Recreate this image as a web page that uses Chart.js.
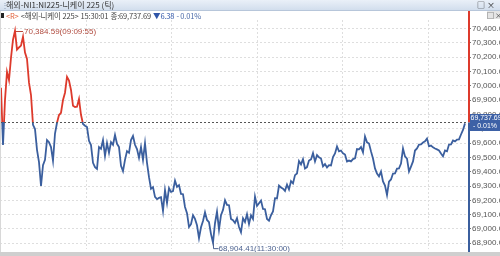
<!DOCTYPE html>
<html>
<head>
<meta charset="utf-8">
<script src="https://cdn.jsdelivr.net/npm/chart.js@4.4.0/dist/chart.umd.min.js"></script>
<style>
  html, body { margin: 0; padding: 0; background: #fff; }
  #wrap { position: relative; width: 500px; height: 256px; overflow: hidden; font-family: "Noto Sans CJK KR", "Noto Sans", sans-serif; }
  #myChart { position: absolute; left: 0; top: 0; }
  #titleBar { position: absolute; left: 0; top: 0; width: 500px; height: 10px; background: linear-gradient(#eaf0f8, #d2deed); border-bottom: 1px solid #b7c6da; font-size: 8px; line-height: 10px; color: #333; white-space: nowrap; }
  #titleBar .grip { position: absolute; left: 1px; top: 0; color: #8a9ab0; }
  #titleBar .txt { position: absolute; left: 6px; top: 0; }
  #titleBar .btns { position: absolute; right: 3px; top: 0; font-size: 8px; color: #222; letter-spacing: 2px; }
  #legend { position: absolute; left: 6px; top: 11px; height: 9px; font-size: 7.5px; line-height: 9px; white-space: nowrap; color: #444; letter-spacing: -0.15px; }
  #legend span { margin-right: 2px; }
  #sq { position: absolute; left: 1px; top: 13px; width: 3px; height: 5px; background: #222; }
  #subBtns { position: absolute; right: 0; top: 11px; width: 13px; height: 8px; background: #e4e4e4; font-size: 7px; line-height: 8px; color: #333; text-align: center; letter-spacing: 1px; }
  #bottomBar { position: absolute; left: 0; top: 252px; width: 500px; height: 4px; background: #cfcfcf; }
  #leftEdge { position: absolute; left: 0; top: 11px; width: 1px; height: 241px; background: #d8d8d8; }
</style>
</head>
<body>
<div id="wrap">
  <canvas id="myChart" width="500" height="256"></canvas>
  <div id="titleBar"><span class="grip">⋮</span><span class="txt">해외-NI1:NI225-니케이 225 (틱)</span><span class="btns">□×</span></div>
  <div id="sq"></div>
  <div id="legend"><span style="color:#e0603a">&lt;R&gt;</span><span>&lt;해외-니케이 225&gt;</span><span>15:30:01</span><span>종:69,737.69</span><span style="color:#2f55a8">▼6.38</span><span style="color:#4a6aa8">- 0.01%</span></div>
  <div id="subBtns">□×</div>
  <div id="leftEdge"></div>
  <div id="bottomBar"></div>
</div>
<script>
// previous close (the dotted reference line) and last trade
const prevClose = 69744.07;
const lastPrice = 69737.69;
const lastChange = "- 0.01%";

// right axis tick values
const yTicks = [68900, 69000, 69100, 69200, 69300, 69400, 69500, 69600, 69700, 69800, 69900, 70000, 70100, 70200, 70300, 70400];

// tick index where the vertical time grid lines fall
const timeGrid = [42.5, 85, 128, 170.5, 213.5];

// high / low labels
const highLabel = "70,384.59(09:09:55)";
const lowLabel = "68,904.41(11:30:00)";

// tick prices
const prices = [
  69986, 69587, 69902, 70098, 70040, 70196, 70322, 70384.59, 70253, 70268,
  70281, 70343, 70232, 70188, 70022, 69936, 69728, 69698, 69553, 69467,
  69300, 69446, 69483, 69621, 69606, 69572, 69476, 69667, 69742, 69796,
  69812, 69901, 69952, 70062, 70036, 69971, 69861, 69852, 69854, 69908,
  69798, 69733, 69721, 69712, 69616, 69586, 69462, 69432, 69420, 69572,
  69560, 69621, 69511, 69600, 69532, 69607, 69588, 69656, 69595, 69572,
  69441, 69404, 69483, 69544, 69532, 69621, 69650, 69588, 69558, 69497,
  69572, 69483, 69600, 69462, 69362, 69280, 69292, 69224, 69208, 69217,
  69222, 69126, 69271, 69182, 69285, 69259, 69264, 69338, 69294, 69306,
  69245, 69243, 69154, 69110, 69014, 69033, 69096, 69070, 69026, 68936,
  69012, 69056, 69117, 69063, 69047, 68964, 68904.41, 69040, 69121, 68996,
  69096, 69133, 69201, 69168, 69166, 69070, 69061, 69042, 69075, 69014,
  68978, 69075, 69049, 69103, 69035, 69096, 69070, 69226, 69161, 69180,
  69198, 69140, 69138, 69070, 69058, 69096, 69122, 69215, 69213, 69303,
  69290, 69282, 69266, 69310, 69276, 69334, 69318, 69376, 69388, 69474,
  69451, 69488, 69423, 69432, 69478, 69486, 69530, 69472, 69516, 69500,
  69492, 69437, 69453, 69430, 69446, 69444, 69502, 69528, 69576, 69542,
  69548, 69528, 69520, 69472, 69478, 69472, 69488, 69493, 69558, 69556,
  69572, 69535, 69646, 69605, 69597, 69542, 69492, 69423, 69387, 69367,
  69401, 69332, 69303, 69237, 69331, 69346, 69387, 69388, 69422, 69423,
  69457, 69562, 69507, 69492, 69402, 69436, 69472, 69548, 69563, 69590,
  69591, 69604, 69612, 69632, 69577, 69583, 69570, 69562, 69556, 69548,
  69527, 69507, 69548, 69542, 69590, 69591, 69618, 69612, 69625, 69626,
  69660, 69692, 69737.69
];

const upColor = "#dd3a2c";
const downColor = "#3b5f9e";

function fmt(v) {
  return v.toLocaleString("en-US", { minimumFractionDigits: 2, maximumFractionDigits: 2 });
}

// line color splits at the previous close
function splitColor(ctx) {
  const c = ctx.chart;
  const a = c.chartArea;
  if (!a) return downColor;
  const yPix = c.scales.y.getPixelForValue(prevClose);
  const s = Math.min(1, Math.max(0, (yPix - a.top) / (a.bottom - a.top)));
  const g = c.ctx.createLinearGradient(0, a.top, 0, a.bottom);
  g.addColorStop(0, upColor);
  g.addColorStop(s, upColor);
  g.addColorStop(s, downColor);
  g.addColorStop(1, downColor);
  return g;
}

const overlay = {
  id: "overlay",
  afterDraw(chart) {
    const ctx = chart.ctx;
    const a = chart.chartArea;
    const xs = chart.scales.x, ys = chart.scales.y;
    const refY = Math.round(ys.getPixelForValue(prevClose)) + 0.5;

    ctx.save();
    // previous close dotted line
    ctx.strokeStyle = "#555";
    ctx.lineWidth = 1;
    ctx.setLineDash([2, 2]);
    ctx.beginPath();
    ctx.moveTo(a.left, refY);
    ctx.lineTo(a.right, refY);
    ctx.stroke();
    ctx.setLineDash([]);

    // right axis line, red above / blue below
    const ax = a.right + 1;
    ctx.lineWidth = 2;
    ctx.strokeStyle = upColor;
    ctx.beginPath();
    ctx.moveTo(ax, 11);
    ctx.lineTo(ax, refY);
    ctx.stroke();
    ctx.strokeStyle = downColor;
    ctx.beginPath();
    ctx.moveTo(ax, refY);
    ctx.lineTo(ax, 252);
    ctx.stroke();

    // high / low
    let hi = 0, lo = 0;
    prices.forEach((p, i) => {
      if (p > prices[hi]) hi = i;
      if (p < prices[lo]) lo = i;
    });
    ctx.textBaseline = "middle";
    ctx.font = '8px "Liberation Sans", sans-serif';
    let px = xs.getPixelForValue(hi), py = Math.round(ys.getPixelForValue(prices[hi])) + 0.5;
    ctx.strokeStyle = "#b84a3c";
    ctx.lineWidth = 1;
    ctx.beginPath();
    ctx.moveTo(px + 1, py);
    ctx.lineTo(px + 8, py);
    ctx.stroke();
    ctx.fillStyle = "#b04a3e";
    ctx.fillText(highLabel, px + 9, py);

    px = Math.round(xs.getPixelForValue(lo)) + 0.5;
    py = ys.getPixelForValue(prices[lo]);
    ctx.strokeStyle = "#4d6390";
    ctx.beginPath();
    ctx.moveTo(px, py);
    ctx.lineTo(px, py + 6);
    ctx.lineTo(px + 5, py + 6);
    ctx.stroke();
    ctx.fillStyle = "#4d6390";
    ctx.fillText(lowLabel, px + 5, py + 6);

    // last price box on the axis
    const ly = ys.getPixelForValue(lastPrice);
    const bx = ax + 1, by = Math.round(ly) - 9;
    ctx.fillStyle = "#3d61a6";
    ctx.fillRect(bx, by, 500 - bx, 17);
    ctx.fillStyle = "#fff";
    ctx.textAlign = "left";
    ctx.font = '7px "Liberation Sans Narrow", "Liberation Sans", sans-serif';
    ctx.fillText(fmt(lastPrice), bx + 0.5, by + 4.5);
    ctx.textAlign = "right";
    ctx.fillText(lastChange, 497, by + 12.5);
    ctx.restore();
  }
};

new Chart(document.getElementById("myChart"), {
  type: "line",
  data: {
    datasets: [{
      data: prices.map((p, i) => ({ x: i, y: p })),
      borderColor: splitColor,
      borderWidth: 1.8,
      pointRadius: 0,
      tension: 0,
      fill: false
    }]
  },
  options: {
    responsive: false,
    animation: false,
    events: [],
    layout: { padding: { top: 20, bottom: 7, left: 0, right: 0 } },
    plugins: { legend: { display: false }, tooltip: { enabled: false } },
    scales: {
      x: {
        type: "linear",
        min: -0.5,
        max: prices.length + 0.5,
        afterBuildTicks: (s) => { s.ticks = timeGrid.map((v) => ({ value: v })); },
        afterFit: (s) => { s.height = 0; },
        ticks: { display: false },
        grid: { color: "#dedede", drawTicks: false },
        border: { display: false, dash: [2, 2] }
      },
      y: {
        position: "right",
        min: 68860,
        max: 70460,
        afterBuildTicks: (s) => { s.ticks = yTicks.map((v) => ({ value: v })); },
        afterFit: (s) => { s.width = 32; },
        ticks: {
          callback: (v) => fmt(v),
          color: "#555",
          padding: 1,
          font: { size: 8, family: '"Liberation Sans Narrow", "Liberation Sans", sans-serif' }
        },
        grid: { color: "#dedede", tickLength: 3, tickColor: "#777" },
        border: { display: false, dash: [2, 2] }
      }
    }
  },
  plugins: [overlay]
});
</script>
</body>
</html>
